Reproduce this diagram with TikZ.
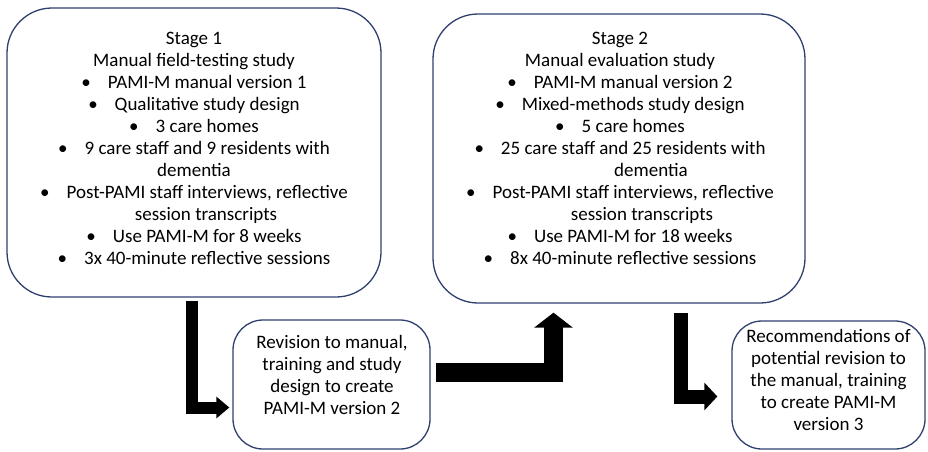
\documentclass[tikz,border=0pt]{standalone}
\usepackage{fontspec}
\setmainfont{Carlito}
\usetikzlibrary{arrows.meta}
\definecolor{boxblue}{RGB}{47,64,110}
\newcommand{\bul}{\textbullet\hspace{17pt}}

\begin{document}
\begin{tikzpicture}[x=1pt,y=1pt,
		roundbox/.style={draw=boxblue,line width=1.3pt,rounded corners=#1,inner sep=0pt},
		boxtext/.style={align=center,inner sep=0pt,font=\fontsize{19}{22}\selectfont},
		bentarrow/.style n args={3}{line width=#1,-{Triangle[length=#2,width=#3]}}]
			\useasboundingbox (0,0) rectangle (928,-451);
			\node[roundbox=45pt,minimum width=374pt,minimum height=289pt] (s1) at (194,-152.5) {};
			\node[roundbox=45pt,minimum width=372pt,minimum height=289pt] (s2) at (619,-158.5) {};
			\node[roundbox=30pt,minimum width=197pt,minimum height=129pt] (rev) at (331.5,-384.5) {};
			\node[roundbox=30pt,minimum width=193pt,minimum height=128pt] (rec) at (828.5,-385) {};
			\node[boxtext] (s1text) at (194,-148.5) {Stage 1\\Manual field-testing study\\\bul PAMI-M manual version 1\\\bul Qualitative study design\\\bul 3 care homes\\\bul 9 care staff and 9 residents with\\dementia\\\bul Post-PAMI staff interviews, reflective\\\hspace*{24pt}session transcripts\\\bul Use PAMI-M for 8 weeks\\\bul 3x 40-minute reflective sessions};
			\node[boxtext] (s2text) at (620,-148.5) {Stage 2\\Manual evaluation study\\\bul PAMI-M manual version 2\\\bul Mixed-methods study design\\\bul 5 care homes\\\bul 25 care staff and 25 residents with\\\hspace*{62pt}dementia\\\bul Post-PAMI staff interviews, reflective\\\hspace*{44pt}session transcripts\\\bul Use PAMI-M for 18 weeks\\\bul 8x 40-minute reflective sessions};
			\node[boxtext] (revtext) at (332,-374.5) {Revision to manual,\\training and study\\design to create\\PAMI-M version 2};
			\node[boxtext] (rectext) at (828.5,-379.5) {Recommendations of\\potential revision to\\the manual, training\\to create PAMI-M\\version 3};
			\draw[bentarrow={12pt}{13pt}{21pt}] ([shift={(-2pt,-3pt)}]s1.south) |- ([shift={(-3pt,-23pt)}]rev.west);
			\draw[bentarrow={19pt}{15pt}{38pt}] ([shift={(5pt,12pt)}]rev.east) -| ([shift={(-65.5pt,-9pt)}]s2.south);
			\draw[bentarrow={14pt}{13pt}{27pt}] ([shift={(61.5pt,-9pt)}]s2.south) |- ([shift={(-14pt,-11.5pt)}]rec.west);
		\end{tikzpicture}
\end{document}
